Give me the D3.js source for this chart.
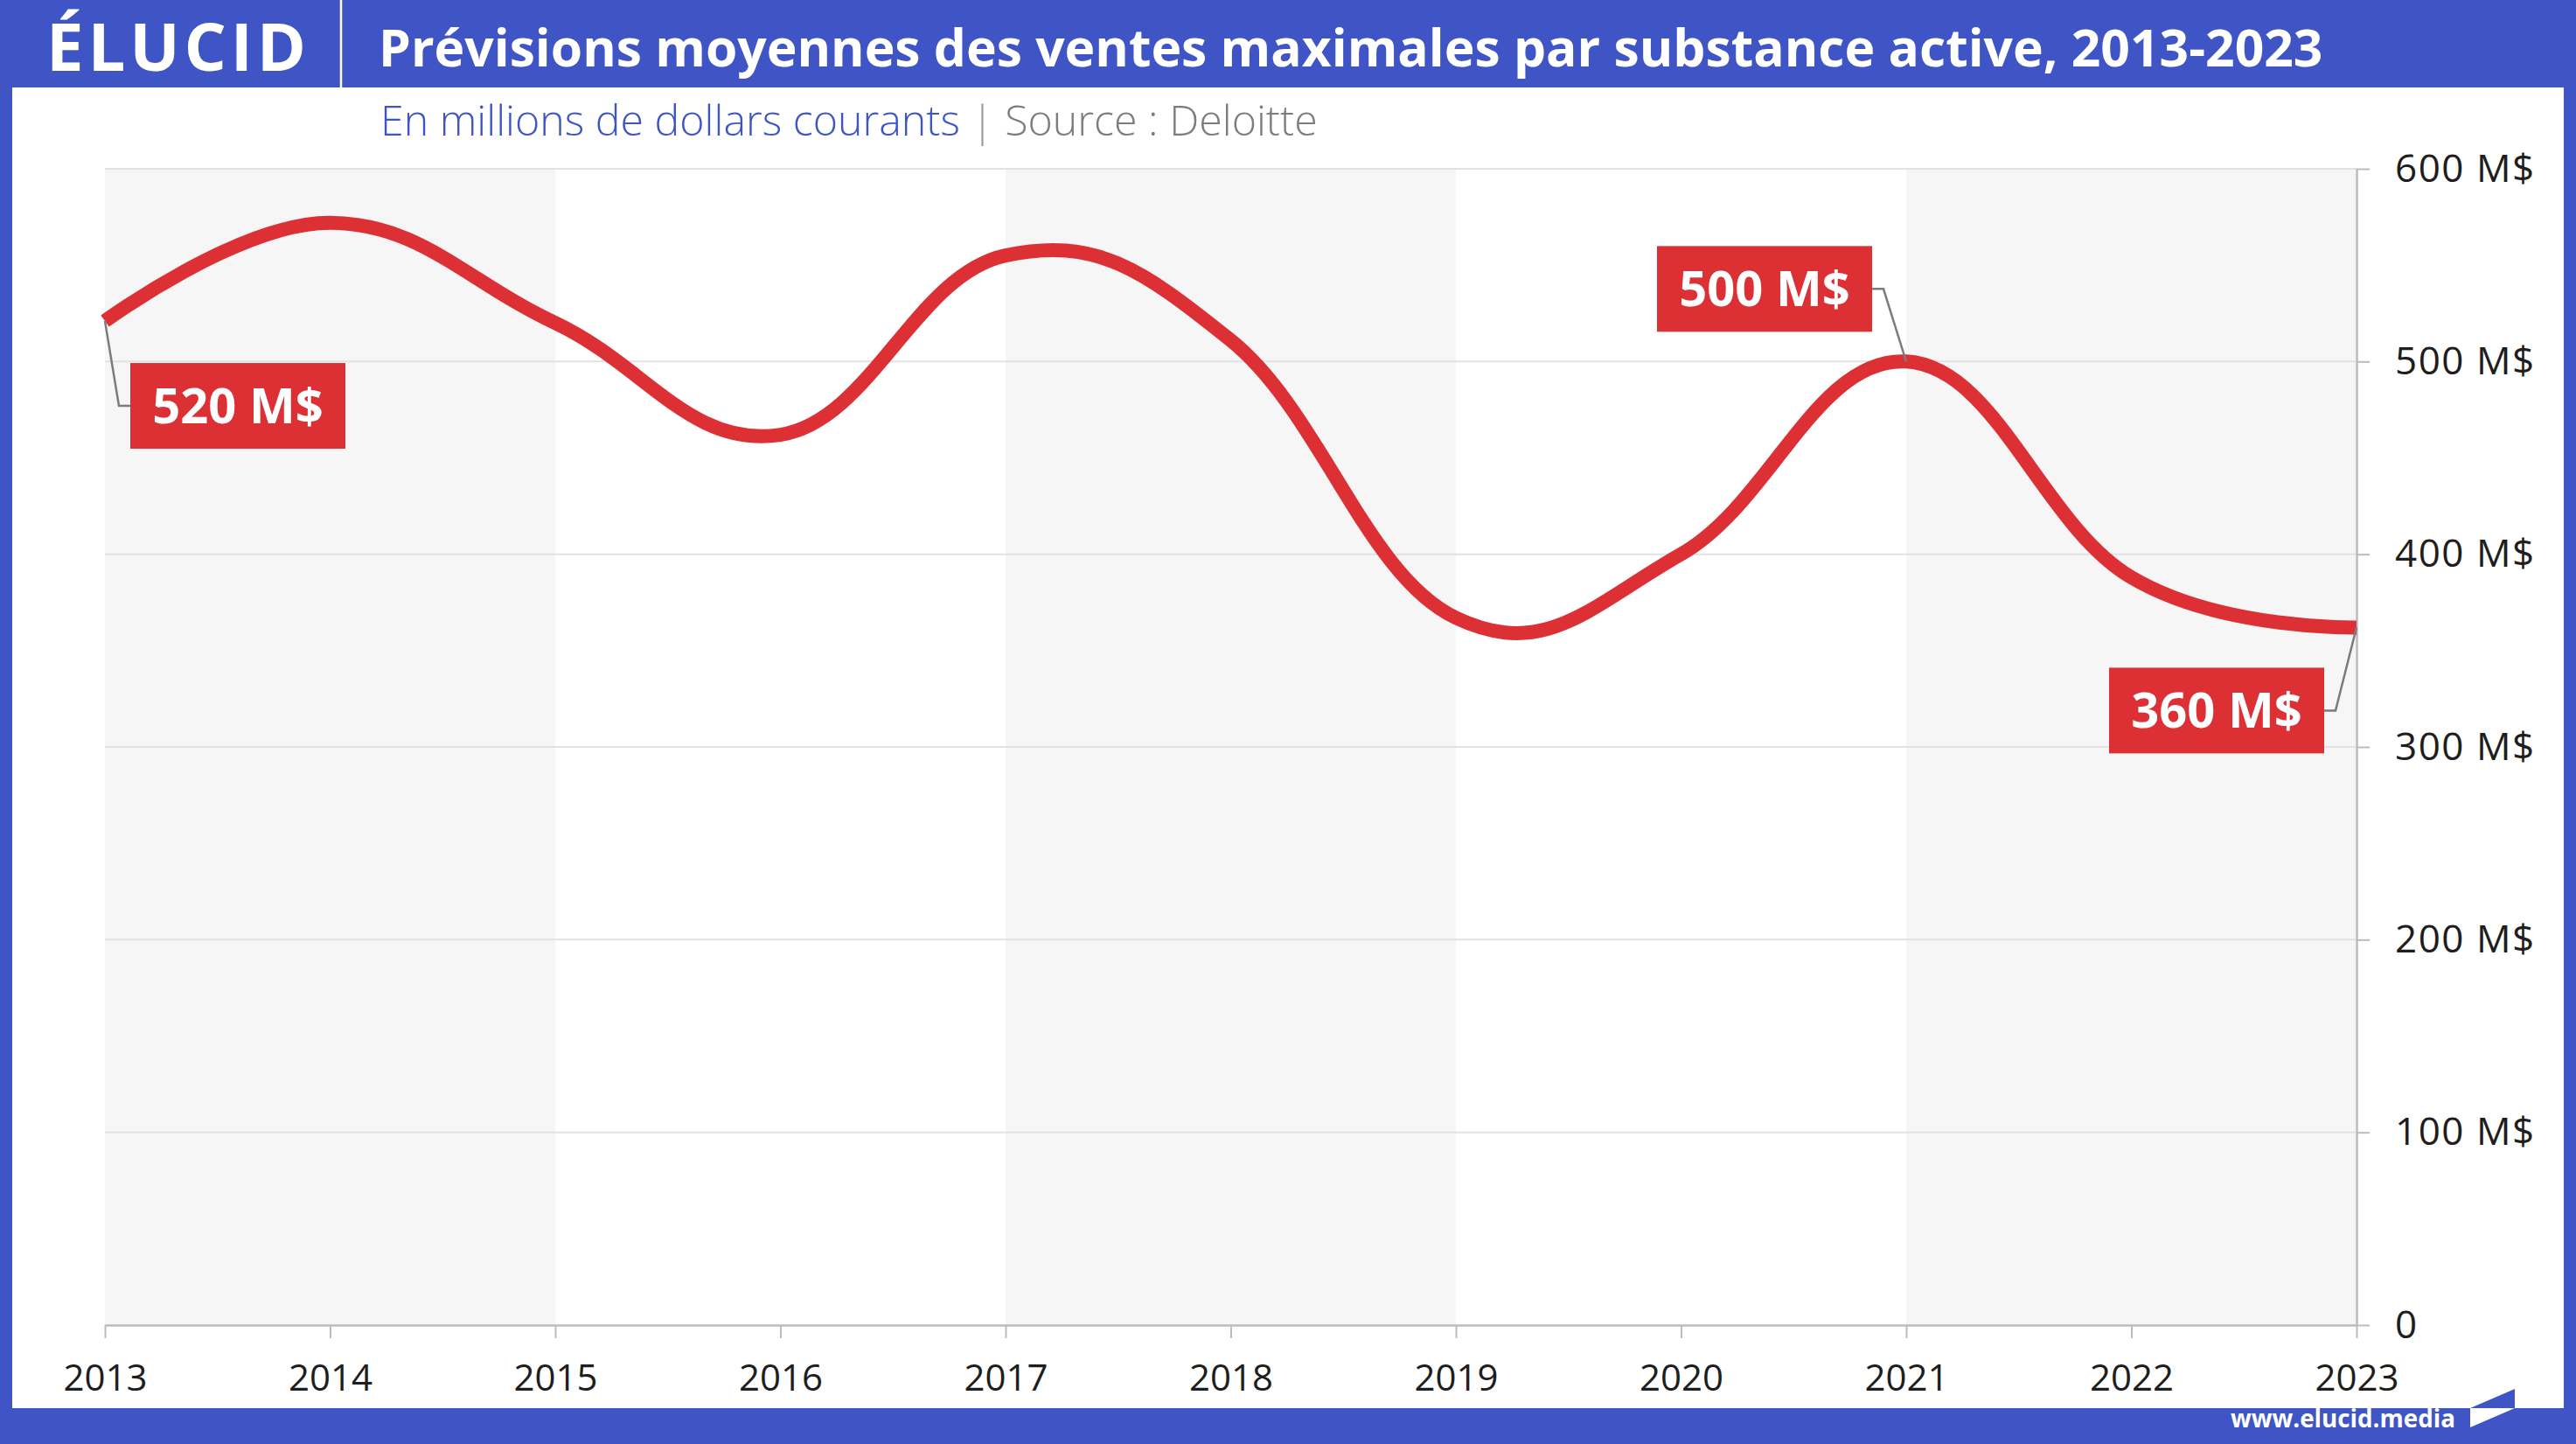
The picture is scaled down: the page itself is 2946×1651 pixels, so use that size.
<!DOCTYPE html>
<html lang="fr">
<head>
<meta charset="utf-8">
<script src="https://cdn.jsdelivr.net/npm/d3@7"></script>
<style>
  body { margin: 0; background: #3f55c5; }
  svg { display: block; }
  text { font-family: "Open Sans", sans-serif; }
</style>
</head>
<body>
<div class="svg-container"></div>
<script>
// data (millions of current dollars)
const years = [2013, 2014, 2015, 2016, 2017, 2018, 2019, 2020, 2021, 2022, 2023];
const sales = [521, 572, 520, 462, 555, 511, 367, 400, 500, 388, 362];
const yTicks = [0, 100, 200, 300, 400, 500, 600];
// shaded plot bands, each two years wide
const bandStarts = [2013, 2017, 2021];
const calloutYears = [2013, 2021, 2023];
const calloutLabels = ['520 M$', '500 M$', '360 M$'];

// callout placement (box offsets from the point, in px)
const calloutLayout = {
  2013: { side: 'right', gap: 29, dy: 97 },
  2021: { side: 'left', gap: 39, dy: -83 },
  2023: { side: 'left', gap: 37, dy: 95 }
};

const width = 2946;
const height = 1651;
const margin = { top: 193, right: 251, bottom: 136, left: 120 };
const blue = '#3f55c5';
const red = '#dc3035';

const svg = d3.select('.svg-container')
  .append('svg')
  .attr('width', width)
  .attr('height', height);

// frame: blue background with white card
svg.append('rect')
  .attr('width', width)
  .attr('height', height)
  .attr('fill', blue);

svg.append('rect')
  .attr('x', 14)
  .attr('y', 100)
  .attr('width', 2918)
  .attr('height', 1510)
  .attr('fill', '#fff');

// scale text so it spans a given width
function fitText(sel, targetWidth) {
  const w = sel.node().getComputedTextLength();
  const fs = parseFloat(sel.attr('font-size'));
  sel.attr('font-size', fs * targetWidth / w);
}

// header
svg.append('text')
  .text('ÉLUCID')
  .attr('x', 53)
  .attr('y', 81)
  .attr('font-size', 76)
  .attr('font-weight', 700)
  .attr('textLength', 297)
  .attr('lengthAdjust', 'spacing')
  .attr('fill', '#fff');

svg.append('line')
  .attr('x1', 390).attr('x2', 390)
  .attr('y1', 0).attr('y2', 100)
  .attr('stroke', '#fff')
  .attr('stroke-width', 2.5);

const title = svg.append('text')
  .text('Prévisions moyennes des ventes maximales par substance active, 2013-2023')
  .attr('x', 433)
  .attr('y', 76)
  .attr('font-size', 50)
  .attr('font-weight', 700)
  .attr('fill', '#fff');
fitText(title, 2224);

const subtitle = svg.append('text')
  .attr('x', 435)
  .attr('y', 155)
  .attr('font-size', 44)
  .attr('font-weight', 300);
subtitle.append('tspan').text('En millions de dollars courants').attr('fill', '#3f55c5');
subtitle.append('tspan').text('  |  ').attr('fill', '#999');
subtitle.append('tspan').text('Source : Deloitte').attr('fill', '#7d7d7d');
fitText(subtitle, 1072);

// footer
const footer = svg.append('text')
  .text('www.elucid.media')
  .attr('x', 2551)
  .attr('y', 1632)
  .attr('font-size', 33)
  .attr('font-weight', 700)
  .attr('fill', '#fff');
fitText(footer, 257);

svg.append('path')
  .attr('d', 'M2825,1610 L2876,1588 L2876,1610 Z')
  .attr('fill', blue);
svg.append('path')
  .attr('d', 'M2825,1610 L2876,1610 L2825,1632 Z')
  .attr('fill', '#fff');

// scales
const xScale = d3.scaleLinear()
  .domain([2013, 2023])
  .range([margin.left, width - margin.right]);

const yScale = d3.scaleLinear()
  .domain([0, 600])
  .range([height - margin.bottom, margin.top]);

const plot = svg.append('g');

// plot bands
plot.selectAll('.band')
  .data(bandStarts)
  .join('rect')
  .attr('class', 'band')
  .attr('x', (d) => xScale(d))
  .attr('width', (d) => xScale(d + 2) - xScale(d))
  .attr('y', yScale(600))
  .attr('height', yScale(0) - yScale(600))
  .attr('fill', '#f6f6f6');

// gridlines
plot.selectAll('.grid')
  .data(yTicks.filter((d) => d > 0))
  .join('line')
  .attr('class', 'grid')
  .attr('x1', xScale(2013))
  .attr('x2', xScale(2023))
  .attr('y1', (d) => yScale(d))
  .attr('y2', (d) => yScale(d))
  .attr('stroke', '#e2e2e2')
  .attr('stroke-width', 2);

// axes
const xAxis = d3.axisBottom(xScale)
  .tickValues(years)
  .tickFormat(d3.format('d'))
  .tickSize(15)
  .tickSizeOuter(0)
  .tickPadding(30);

const yAxis = d3.axisRight(yScale)
  .tickValues(yTicks)
  .tickFormat((d) => (d === 0 ? '0' : d + ' M$'))
  .tickSize(15)
  .tickSizeOuter(0)
  .tickPadding(29);

const gx = svg.append('g')
  .attr('id', 'x-axis')
  .attr('transform', `translate(0, ${yScale(0)})`)
  .call(xAxis);

const gy = svg.append('g')
  .attr('id', 'y-axis')
  .attr('transform', `translate(${xScale(2023)}, 0)`)
  .call(yAxis);

[gx, gy].forEach((g) => {
  g.select('.domain').attr('stroke', '#bcbcbc').attr('stroke-width', 2.5);
  g.selectAll('.tick line').attr('stroke', '#bcbcbc').attr('stroke-width', 2);
  g.selectAll('.tick text')
    .attr('fill', '#1e1e1e')
    .attr('font-family', '"Open Sans", sans-serif');
});
gx.selectAll('.tick text').attr('font-size', 42);
gy.selectAll('.tick text').attr('font-size', 44).attr('letter-spacing', 1.5);

// line
const points = years.map((year, i) => ({ year, value: sales[i] }));

const line = d3.line()
  .x((d) => xScale(d.year))
  .y((d) => yScale(d.value))
  .curve(d3.curveCardinal.tension(-0.2));

svg.append('path')
  .datum(points)
  .attr('d', line)
  .attr('fill', 'none')
  .attr('stroke', red)
  .attr('stroke-width', 16);

// callouts
const boxW = 246;
const boxH = 98;

calloutYears.forEach((year, i) => {
  const p = points.find((d) => d.year === year);
  const px = xScale(p.year);
  const py = yScale(p.value);
  const lay = calloutLayout[year];
  const cy = py + lay.dy;
  const bx = lay.side === 'right' ? px + lay.gap : px - lay.gap - boxW;
  const edge = lay.side === 'right' ? bx : bx + boxW;
  const elbow = lay.side === 'right' ? edge - 13 : edge + 13;

  svg.append('path')
    .attr('d', `M${px},${py} L${elbow},${cy} L${edge},${cy}`)
    .attr('fill', 'none')
    .attr('stroke', '#7c7c7c')
    .attr('stroke-width', 2.5);

  svg.append('rect')
    .attr('x', bx)
    .attr('y', cy - boxH / 2)
    .attr('width', boxW)
    .attr('height', boxH)
    .attr('fill', red);

  svg.append('text')
    .text(calloutLabels[i])
    .attr('x', bx + boxW / 2)
    .attr('y', cy + 20)
    .attr('text-anchor', 'middle')
    .attr('font-size', 56)
    .attr('font-weight', 700)
    .attr('fill', '#fff');
});
</script>
</body>
</html>
